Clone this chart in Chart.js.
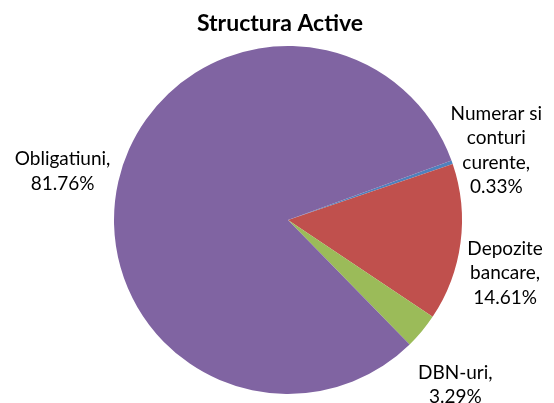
<!DOCTYPE html>
<html>
<head>
<meta charset="utf-8">
<script src="https://cdn.jsdelivr.net/npm/chart.js@4"></script>
<style>
    html, body { margin: 0; padding: 0; background: #fff; }
    #wrap { width: 554px; height: 403px; }
</style>
</head>
<body>
<div id="wrap"><canvas id="pie-canvas"></canvas></div>
<script>
const chartTitle = 'Structura Active';
const categories = ['Numerar si conturi curente', 'Depozite bancare', 'DBN-uri', 'Obligatiuni'];
const values = [0.33, 14.61, 3.29, 81.76];
const colors = ['#4F81BD', '#C0504D', '#9BBB59', '#8064A2'];

// small hand nudges for the outside labels (Excel placed them a bit freely)
const labelNudge = [[-3, 5], [-5, 24], [-5, 22], [-7, 1]];

const FONT = 'Lato, "Open Sans", sans-serif';

// wrap "name," into lines no wider than maxW, then add the value on its own line
const wrapLabel = (ctx, name, value, maxW) => {
    const words = (name + ',').split(' ');
    let lines = [];
    let cur = '';
    words.forEach(w => {
        const test = cur ? cur + ' ' + w : w;
        if (cur && ctx.measureText(test).width > maxW) {
            lines.push(cur);
            cur = w;
        } else {
            cur = test;
        }
    });
    lines.push(cur);
    lines.push(value.toFixed(2) + '%');
    return lines;
}

const pieLabels = {
    id: 'pieLabels',
    afterDraw(chart) {
        const ctx = chart.ctx;
        const meta = chart.getDatasetMeta(0);
        ctx.save();
        ctx.fillStyle = '#000';
        ctx.textAlign = 'center';
        ctx.textBaseline = 'middle';

        // title
        ctx.font = 'bold 23px ' + FONT;
        ctx.fillText(chartTitle, 280, 24);

        ctx.font = '19px ' + FONT;
        const lineH = 24.5;
        meta.data.forEach((arc, i) => {
            const p = arc.getProps(['x', 'y', 'startAngle', 'endAngle', 'outerRadius'], true);
            const mid = (p.startAngle + p.endAngle) / 2;
            const dist = p.outerRadius + 50;
            const cx = p.x + Math.cos(mid) * dist + labelNudge[i][0];
            const cy = p.y + Math.sin(mid) * dist + labelNudge[i][1];
            const lines = wrapLabel(ctx, categories[i], values[i], 105);
            const top = cy - (lines.length - 1) * lineH / 2;
            lines.forEach((ln, k) => ctx.fillText(ln, cx, top + k * lineH));
        });
        ctx.restore();
    }
};

const ctx = document.getElementById('pie-canvas');

new Chart(ctx, {
    type: 'pie',
    data: {
        labels: categories,
        datasets: [{
            data: values,
            backgroundColor: colors,
            borderWidth: 0
        }]
    },
    options: {
        responsive: true,
        maintainAspectRatio: false,
        animation: false,
        rotation: 70,
        layout: {
            padding: { top: 46, bottom: 9, left: 114, right: 92 }
        },
        plugins: {
            legend: { display: false },
            title: { display: false },
            tooltip: { enabled: false }
        }
    },
    plugins: [pieLabels]
});
</script>
</body>
</html>
